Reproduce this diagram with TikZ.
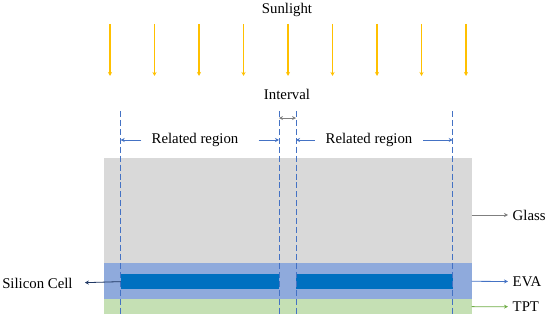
\documentclass[tikz,border=0pt]{standalone}
\usepackage{fontspec}
\setmainfont{Liberation Serif}
\usetikzlibrary{arrows.meta,positioning,fit}
\definecolor{pvGlass}{RGB}{217,217,217}
\definecolor{pvEva}{RGB}{143,170,220}
\definecolor{pvCell}{RGB}{0,112,192}
\definecolor{pvTpt}{RGB}{197,224,180}
\definecolor{pvLine}{RGB}{68,114,196}
\definecolor{pvSun}{RGB}{255,192,0}
\definecolor{pvGray}{RGB}{127,127,127}
\definecolor{pvGreen}{RGB}{112,173,71}
\definecolor{pvNavy}{RGB}{32,56,100}

\begin{document}
\begin{tikzpicture}[
  x=0.75pt, y=-0.75pt,
  font=\fontsize{11.1}{13}\selectfont,
  layer/.style={inner sep=0pt, outer sep=0pt, draw=none},
  label/.style={inner sep=0pt},
  guide/.style={draw=pvLine, thin, dash pattern=on 4.5pt off 2.2pt},
  sun/.style={-{Stealth[length=3pt,width=3pt]}, draw=pvSun, line width=1pt},
  arrow/.style={-{Stealth[length=3pt,width=3pt]}, line width=0.6pt},
  span/.style={{Stealth[length=3pt,width=3pt]}-{Stealth[length=3pt,width=3pt]}, line width=0.5pt}
]
\useasboundingbox (0,0) rectangle (550,323);

% sunlight
\node (sunlight) at (287,10) {Sunlight};
\foreach \i in {0,...,8}
  \draw[sun] (110+44.5*\i,24) -- ++(0,52);

% module layers
\node[layer, fill=pvGlass, fit={(103.5,157.7) (471.7,263.3)}] (glass) {};
\node[layer, fill=pvEva, fit={(103.5,263.3) (471.7,299.3)}] (eva) {};
\node[layer, fill=pvTpt, fit={(103.5,299.3) (471.7,314)}] (tpt) {};
\node[layer, fill=pvCell, fit={(120.7,274.3) (279,289)}] (cellL) {};
\node[layer, fill=pvCell, fit={(296,274.3) (452.7,289)}] (cellR) {};

% guide lines
\coordinate (d1) at (120.7,111);
\coordinate (d2) at (279,111);
\coordinate (d3) at (296,111);
\coordinate (d4) at (452.7,111);
\foreach \d in {d1,d2,d3,d4}
  \draw[guide] (\d) -- ++(0,205);

% interval and regions
\node (interval) at (287,94) {Interval};
\draw[span, draw=pvGray] ([yshift=-5.3pt]d2) -- ([yshift=-5.3pt]d3);

\node[label] (rel1) at (195,140) {Related region};
\node[label] (rel2) at (369,140) {Related region};
\draw[arrow, draw=pvLine] ([xshift=-7.5pt]rel1.west) -- (rel1.west -| d1);
\draw[arrow, draw=pvLine] ([xshift=15pt]rel1.east) -- (rel1.east -| d2);
\draw[arrow, draw=pvLine] ([xshift=-8pt]rel2.west) -- (rel2.west -| d3);
\draw[arrow, draw=pvLine] ([xshift=8pt]rel2.east) -- (rel2.east -| d4);

% layer labels
\node[anchor=west] (glassLbl) at (508,215) {Glass};
\node[anchor=west] (evaLbl) at (508,281.5) {EVA};
\node[anchor=west] (tptLbl) at (508,306.7) {TPT};
\node[label, anchor=west] (cellLbl) at (2,283) {Silicon Cell};

\draw[arrow, draw=pvGray] (glassLbl.west -| glass.east) -- (glassLbl.west);
\draw[arrow, draw=pvLine] (eva.east) -- (evaLbl.west);
\draw[arrow, draw=pvGreen] (tpt.east) -- (tptLbl.west);
\draw[arrow, draw=pvNavy, shorten >=9pt] (cellL.west) -- (cellLbl.east);
\end{tikzpicture}
\end{document}
